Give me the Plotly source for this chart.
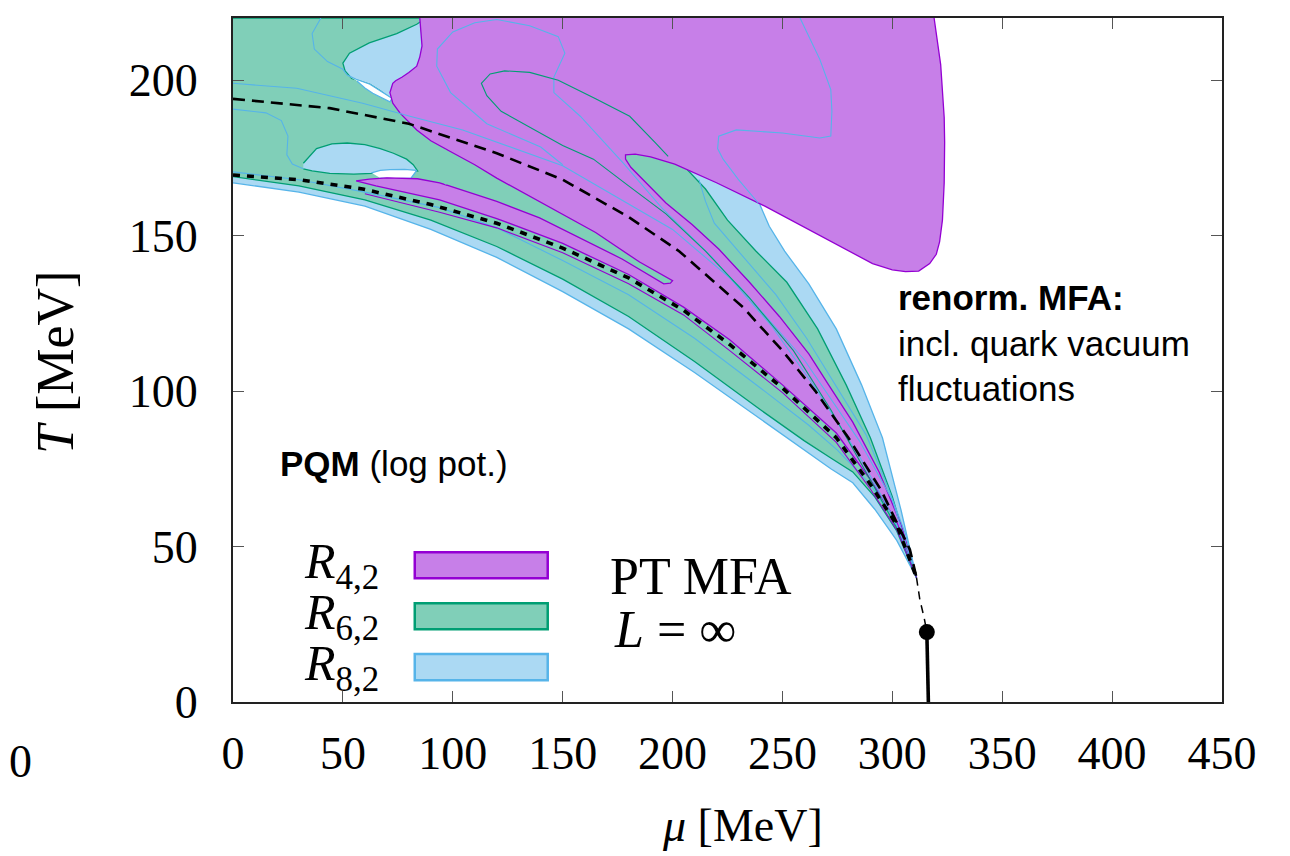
import plotly.graph_objects as go

# ---------------- data (mu [MeV], T [MeV]) ----------------
x_ticks = [0, 50, 100, 150, 200, 250, 300, 350, 400, 450]
y_ticks = [0, 50, 100, 150, 200]

# R8,2 (blue) outer envelope
r82_env_mu = [0, 30, 60, 90, 120, 150, 180, 210, 240, 260, 272, 282, 292, 302, 311,
              304, 295.5, 286, 274.5, 262, 251, 244, 240, 236, 220, 200, 0]
r82_env_T = [167, 164, 159.5, 152, 143, 132, 120, 106, 91, 81, 75, 70.5, 62, 52, 40,
             61.6, 85, 102, 120, 134.5, 145, 153, 159.5, 170, 190, 220, 220]

# R6,2 (green) main region
r62_mu = [0, 150, 180, 207, 215, 225, 238, 252, 266, 279, 290, 300, 311,
          302, 292, 282, 272, 260, 240, 210, 180, 150, 120, 90, 60, 30, 0]
r62_T = [220, 220, 200, 171, 165, 155, 145, 135, 120, 102, 85, 66, 40,
         55, 66, 74, 78.5, 84, 94, 109.5, 124, 136, 146.5, 155, 161.5, 166, 169]

# R8,2 patches inside the green region
r82_patch_a_mu = [88, 83.6, 74.5, 62, 53, 50, 51, 54, 62.3, 67, 71.4, 80, 95, 95]
r82_patch_a_T = [220, 218, 215, 212, 208.7, 205.5, 203, 200.6, 198.7, 196.6, 194.2, 192, 205, 220]
r82_patch_b_mu = [32, 38, 45, 52, 60, 67, 73, 79, 82, 84, 80, 72, 63, 55, 44, 36, 32]
r82_patch_b_T = [173.3, 178, 179.5, 179.8, 179.3, 178, 176.5, 174.6, 172.8, 170.8, 170.5, 171, 170,
                 169.8, 170, 170.8, 171.5]

# uncovered holes
hole_a_mu = [52, 56, 62.3, 67, 72.3, 71.4, 67, 63.6, 60, 56.4]
hole_a_T = [201.6, 200.3, 198.7, 196.6, 194.2, 193, 194.6, 195.8, 197.5, 199.7]
hole_b_mu = [63, 67, 71.4, 78, 83.6, 82, 81, 74, 67]
hole_b_T = [170.2, 171, 171.2, 171.3, 171, 169.5, 168.5, 168.3, 168.5]

# R4,2 (purple) region
r42_mu = [85, 85.5, 86, 85, 83.6, 80, 77, 74, 72.7, 71.4, 72, 72.7, 76, 80, 83.6, 90, 97,
          104, 97, 94, 84, 70, 62, 56,
          60, 65, 94, 120, 150, 180, 205, 226, 250, 274.5, 290, 302, 311,
          304, 294, 282, 271, 262, 248.6, 235, 221, 209, 197, 188, 181, 178.6, 178.6, 183,
          190, 201, 220, 242, 267, 291, 300, 306, 312, 317, 320, 321.5, 322.8, 323.6, 323.8,
          323.6, 322, 319]
r42_T = [220, 215, 211, 207.5, 204.5, 202.5, 201, 199.8, 199, 196, 194, 192.6, 189.4, 186.5, 184, 180.5, 177.8,
         171, 166.3, 167, 168.3, 168.6, 168.2, 167.6,
         166.8, 166, 161.5, 155.5, 147.5, 137.5, 127, 116.5, 102, 86.5, 71.5, 58, 40,
         57, 74, 90, 102, 112, 124, 135, 145.7, 153.5, 160.5, 167, 172, 174.6, 176, 176.2,
         175.3, 173, 167, 159.5, 150, 141, 139, 138.4, 138.6, 141, 144, 148, 155, 167, 180,
         188, 205, 220]

# green tongue inside the purple region
tongue_mu = [97, 110, 120, 147, 165, 185, 196, 200, 199, 196, 177, 160, 139.5, 120, 97, 93, 92, 93.5]
tongue_T = [177.8, 172.8, 168.5, 158, 151, 141.5, 137, 135.5, 134.7, 134.5, 142.5, 148.5, 155.7,
            161, 166.3, 168.5, 172, 175.5]

# contour lines
cb1_mu = [0, 29, 59, 80.5, 104.5, 150, 200, 230, 260, 285, 300, 311]
cb1_T = [199, 197.4, 192.6, 188.4, 184, 172.5, 152, 134, 110, 84, 65, 40]
cb2_mu = [0, 15, 22, 25, 24.5, 27, 32]
cb2_T = [190.7, 189.5, 187, 182, 176, 173, 171.5]
cb3_mu = [40, 36, 37, 43, 50, 52]
cb3_T = [220, 215, 210, 206, 203.5, 201.6]
cb4_mu = [150, 140, 115.5, 99, 92.7, 93, 100, 110, 120, 135, 148, 151, 146, 146, 158, 178, 195,
          218, 245, 265, 285, 300, 311]
cb4_T = [172.8, 178.5, 186, 196, 204.5, 210, 215.5, 218.5, 219.5, 217.5, 214, 208.7, 201, 196,
         188.4, 173, 159, 143, 121, 101, 79, 60, 40]
cb5_mu = [258, 262, 267, 272, 272.5, 272, 267, 250, 229, 221, 220.5, 223, 230, 239]
cb5_T = [220, 214, 206.7, 197, 190, 182, 181.4, 183, 184, 182, 178, 174.6, 168, 160.5]
cb6_mu = [0, 30, 60, 94, 120, 150, 180, 210, 240, 262, 275, 290, 302, 311]
cb6_T = [170.5, 168, 164, 159, 152.5, 142, 131, 117, 101, 89, 81, 70, 57, 40]
cb8_mu = [212, 215, 219, 231, 247, 261, 275, 288, 298, 306, 311]
cb8_T = [168, 161, 154, 144, 131, 117, 101, 86, 69, 54, 40]
cg1_mu = [311, 302, 288, 272, 255, 235, 215, 197, 180, 164, 150, 135, 122, 115.5, 113, 117,
          123.6, 135, 148, 165, 180.5, 192, 198]
cg1_T = [40, 56, 74, 94, 113, 130, 145, 157, 166, 174.6, 179, 185, 190, 195, 199, 202, 203,
         202.5, 200, 194, 188.4, 180, 175.5]
pl1_mu = [60, 94, 120, 150, 180, 205, 226, 250, 274.5, 290, 302, 311]
pl1_T = [163.5, 157.5, 152.5, 144.5, 134.5, 124.5, 113, 99.5, 83.5, 68.5, 55.5, 40]

# PT MFA lines
dash_mu = [0, 44, 80, 120, 150, 180, 203, 232, 250, 265, 280, 295, 308, 311]
dash_T = [194, 191, 186, 176.5, 168, 156, 145, 127, 113, 100, 85, 68, 49, 40]
dash2_mu = [311, 312.5, 314.5, 315.7]
dash2_T = [40, 33, 27, 22.5]
dot_mu = [0, 30, 59, 90, 120, 150, 180, 205, 226, 250, 274.5, 290, 302, 311]
dot_T = [169.5, 168, 165, 160, 154, 146, 136.4, 126, 115, 101, 85, 70, 57, 40]
first_order_mu = [315.7, 316, 316.2, 316.4]
first_order_T = [22.5, 14, 7, 0]
cep_mu = [315.7]
cep_T = [22.5]

# ---------------- styles ----------------
F_PUR, F_GRN, F_BLU = "#c77fe8", "#80cfb8", "#abd9f3"
L_PUR, L_GRN, L_BLU = "#9400d3", "#009e73", "#56b4e9"
SERIF = "Liberation Serif"
SANS = "Liberation Sans"

fig = go.Figure()


def poly(mu, T, fill, line, lw=1.3):
    fig.add_trace(go.Scatter(x=mu, y=T, mode="lines", fill="toself", fillcolor=fill,
                             line=dict(color=line, width=lw), hoverinfo="skip"))


def curve(mu, T, color, lw=1.2, dash=None):
    fig.add_trace(go.Scatter(x=mu, y=T, mode="lines",
                             line=dict(color=color, width=lw, dash=dash), hoverinfo="skip"))


poly(r82_env_mu, r82_env_T, F_BLU, L_BLU)
poly(r62_mu, r62_T, F_GRN, L_GRN)
poly(r82_patch_a_mu, r82_patch_a_T, F_BLU, L_GRN)
poly(r82_patch_b_mu, r82_patch_b_T, F_BLU, L_GRN)
poly(hole_a_mu, hole_a_T, "white", L_BLU)
poly(hole_b_mu, hole_b_T, "white", L_BLU)
poly(r42_mu, r42_T, F_PUR, L_PUR)
poly(tongue_mu, tongue_T, F_GRN, F_GRN, 0)
curve(tongue_mu[:15], tongue_T[:15], L_PUR, 1.3)

for m, t in [(cb1_mu, cb1_T), (cb2_mu, cb2_T), (cb3_mu, cb3_T), (cb4_mu, cb4_T),
             (cb5_mu, cb5_T), (cb6_mu, cb6_T), (cb8_mu, cb8_T)]:
    curve(m, t, L_BLU, 1.1)
curve(cg1_mu, cg1_T, L_GRN, 1.1)
curve(pl1_mu, pl1_T, L_PUR, 1.1)

curve(dash_mu, dash_T, "black", 2.6, "12px,7px")
curve(dash2_mu, dash2_T, "black", 1.5, "8px,6px")
curve(dot_mu, dot_T, "black", 3.6, "7px,7px")
curve(first_order_mu, first_order_T, "black", 3.6)
fig.add_trace(go.Scatter(x=cep_mu, y=cep_T, mode="markers",
                         marker=dict(color="black", size=16), hoverinfo="skip"))

# legend swatches (drawn as layout shapes)
legend_items = [("<i>R</i><sub>4,2</sub>", F_PUR, L_PUR, 44.0),
                ("<i>R</i><sub>6,2</sub>", F_GRN, L_GRN, 27.6),
                ("<i>R</i><sub>8,2</sub>", F_BLU, L_BLU, 11.2)]
shapes = []
annotations = []
for label, fc, lc, yc in legend_items:
    shapes.append(dict(type="rect", xref="x", yref="y", x0=82.7, x1=143.2, y0=yc - 4.2, y1=yc + 4.2,
                       fillcolor=fc, line=dict(color=lc, width=2.5), layer="above"))
    annotations.append(dict(text=label, x=67.5, y=yc, xref="x", yref="y", xanchor="right",
                            yanchor="middle", showarrow=False,
                            font=dict(family=SERIF, size=50, color="black")))

annotations += [
    dict(text="<b>PQM</b> (log pot.)", x=20.5, y=76.7, xref="x", yref="y", xanchor="left",
         yanchor="middle", showarrow=False, font=dict(family=SANS, size=35, color="black")),
    dict(text="<b>renorm. MFA:</b><br>incl. quark vacuum<br>fluctuations", x=301.5, y=115.5,
         xref="x", yref="y", xanchor="left", yanchor="middle", align="left", showarrow=False,
         font=dict(family=SANS, size=35, color="black")),
    dict(text="PT MFA", x=170.5, y=40.5, xref="x", yref="y", xanchor="left", yanchor="middle",
         showarrow=False, font=dict(family=SERIF, size=52, color="black")),
    dict(text="<i>L</i> = ∞", x=172.3, y=23.3, xref="x", yref="y", xanchor="left", yanchor="middle",
         showarrow=False, font=dict(family=SERIF, size=52, color="black")),
    dict(text="<i>μ</i> [MeV]", x=0.5147, y=-0.18, xref="paper", yref="paper", xanchor="center",
         yanchor="middle", showarrow=False, font=dict(family=SERIF, size=46, color="black")),
    dict(text="<i>T</i> [MeV]", x=-0.18, y=0.497, xref="paper", yref="paper", xanchor="center",
         yanchor="middle", textangle=-90, showarrow=False,
         font=dict(family=SERIF, size=52, color="black")),
    dict(text="0", x=-0.2144, y=-0.0877, xref="paper", yref="paper", xanchor="center",
         yanchor="middle", showarrow=False, font=dict(family=SERIF, size=46, color="black")),
]

axis_common = dict(ticks="inside", ticklen=11, tickwidth=1.2, tickcolor="#555", showline=True,
                   linecolor="#222", linewidth=2, mirror="ticks", showgrid=False, zeroline=False,
                   tickfont=dict(family=SERIF, size=46, color="black"))
# page body has an 8 px margin, so the figure is 8 px smaller than the window
fig.update_layout(
    width=1282, height=848, margin=dict(l=225, r=68, t=10, b=154),
    plot_bgcolor="white", paper_bgcolor="white", showlegend=False,
    font=dict(color="black"),
    xaxis=dict(range=[0, 450], tickvals=x_ticks, ticklabelstandoff=10, automargin=False, **axis_common),
    yaxis=dict(range=[0, 220], tickvals=y_ticks, ticklabelstandoff=24, automargin=False, **axis_common),
    shapes=shapes, annotations=annotations,
)

fig.write_html("out.html")
